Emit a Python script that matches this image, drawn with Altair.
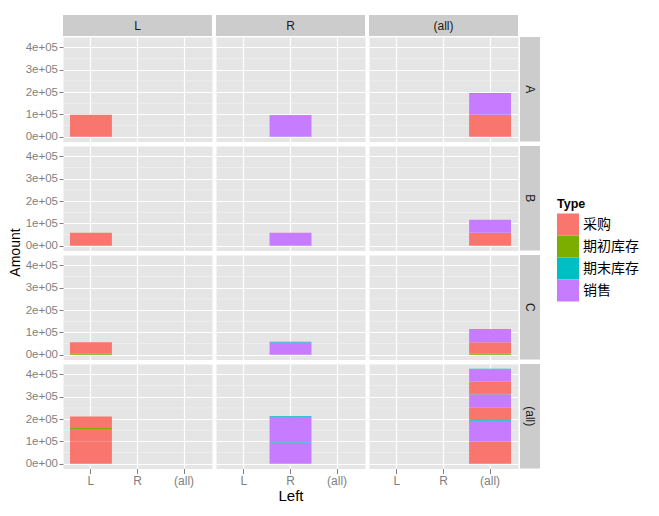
import altair as alt
import pandas as pd

# ---- data ----
row_groups = ["A", "A", "A", "B", "B", "C", "C", "C", "C"]
left_side = ["L", "R", "R", "L", "R", "L", "L", "R", "R"]
types = ["采购", "销售", "期末库存", "采购", "销售", "期初库存", "采购", "销售", "期末库存"]
amounts = [98000, 95000, 2500, 58000, 58000, 4000, 52000, 55000, 3000]

type_levels = ["采购", "期初库存", "期末库存", "销售"]
type_colors = ["#F8766D", "#7CAE00", "#00BFC4", "#C77CFF"]
col_levels = ["L", "R", "(all)"]
row_levels = ["A", "B", "C", "(all)"]
major_breaks = [0, 100000, 200000, 300000, 400000]
minor_breaks = [50000, 150000, 250000, 350000]

base = pd.DataFrame({
    "row": row_groups, "left": left_side, "type": types,
    "amount": amounts, "idx": list(range(len(amounts))),
})

W, H = 149, 104.5
GAP = 4
STRIP_CELL = 18      # cell height of the top strips (the grey strip overflows into the gap)
STRIP = 21
RCELL = 18           # cell width of the right strips
LEFT_W = 50
total = float(sum(amounts))
ydom = [-0.05 * total, 1.05 * total]
FONT = "Liberation Sans, Arial, Noto Sans CJK SC"
GREY = "#7F7F7F"

yscale = alt.Scale(domain=ydom, nice=False, zero=False)
xscale = alt.Scale(domain=col_levels, paddingInner=0.1, paddingOuter=0.15)
color_enc = alt.Color(
    "type:N",
    scale=alt.Scale(domain=type_levels, range=type_colors),
    legend=alt.Legend(
        title="Type", orient="none", legendX=548, legendY=183,
        titleFontSize=12.5, titleFontWeight="bold", titleColor="black", titleFont=FONT,
        titlePadding=3, labelFontSize=14, labelFont="Noto Sans CJK SC", labelColor="black",
        symbolType="square", symbolSize=484, symbolStrokeWidth=0, symbolOpacity=1,
        rowPadding=0, labelOffset=4, padding=0,
    ),
)

clear = alt.ViewBackground(fill="transparent", stroke="transparent")


def blank(w, h):
    return alt.Chart(pd.DataFrame({"t": [""]})).mark_rect(opacity=0).encode(
        x=alt.value(0), x2=alt.value(1), y=alt.value(0), y2=alt.value(1)
    ).properties(width=w, height=h, view=clear)


def panel(r, c, ri, ci):
    d = base.copy()
    if r != "(all)":
        d = d[d["row"] == r]
    if c != "(all)":
        d = d[d["left"] == c]
    d = d.assign(x=c)
    show_y = ci == 0
    show_x = ri == len(row_levels) - 1
    yaxis = alt.Axis(
        values=major_breaks, grid=True, gridColor="white", gridWidth=1.2, domain=False,
        title="", labels=show_y, ticks=show_y, tickColor=GREY, tickSize=4, tickWidth=1,
        labelColor=GREY, labelFontSize=11.5, labelFont=FONT, labelPadding=1.5,
        labelExpr="format(datum.value/100000, 'd') + (datum.value == 0 ? 'e+00' : 'e+05')",
    )
    xaxis = alt.Axis(
        grid=True, bandPosition=0.5, gridColor="white", gridWidth=1.2, domain=False,
        labels=show_x, ticks=show_x, tickColor=GREY, tickSize=5, tickWidth=1,
        labelColor=GREY, labelFontSize=12, labelFont=FONT, labelAngle=0, labelPadding=2,
        title=("Left" if (show_x and ci == 1) else ""), titleFontSize=15,
        titleFont=FONT, titleFontWeight="normal", titleColor="black", titlePadding=2,
    )
    minor = alt.Chart(pd.DataFrame({"b": minor_breaks})).mark_rule(
        color="#F2F2F2", strokeWidth=0.7
    ).encode(y=alt.Y("b:Q", scale=yscale, axis=yaxis))
    bars = alt.Chart(d).mark_bar().encode(
        x=alt.X("x:N", scale=xscale, axis=xaxis),
        y=alt.Y("amount:Q", scale=yscale, stack="zero", axis=yaxis),
        color=color_enc,
        order=alt.Order("idx:Q"),
    )
    return alt.layer(minor, bars).properties(
        width=W, height=H, view=alt.ViewBackground(fill="#E5E5E5", stroke="transparent")
    )


def strip_top(label):
    df = pd.DataFrame({"t": [label]})
    bg = alt.Chart(df).mark_rect(color="#CCCCCC").encode(
        x=alt.value(0), x2=alt.value(W), y=alt.value(0), y2=alt.value(STRIP)
    )
    txt = alt.Chart(df).mark_text(
        fontSize=12, font=FONT, color="#1A1A1A", baseline="middle", align="center"
    ).encode(text="t:N", x=alt.value(W / 2), y=alt.value(STRIP / 2 + 0.5))
    return alt.layer(bg, txt).properties(width=W, height=STRIP_CELL, view=clear)


def strip_right(label):
    df = pd.DataFrame({"t": [label]})
    bg = alt.Chart(df).mark_rect(color="#CCCCCC").encode(
        x=alt.value(-2), x2=alt.value(RCELL), y=alt.value(0), y2=alt.value(H)
    )
    txt = alt.Chart(df).mark_text(
        fontSize=12, font=FONT, color="#1A1A1A", baseline="middle", align="center", angle=90
    ).encode(text="t:N", x=alt.value(RCELL / 2 - 1), y=alt.value(H / 2))
    return alt.layer(bg, txt).properties(width=RCELL, height=H, view=clear)


def ytitle():
    return alt.Chart(pd.DataFrame({"t": ["Amount"]})).mark_text(
        angle=270, fontSize=14, font=FONT, color="black", baseline="middle", align="center"
    ).encode(text="t:N", x=alt.value(7), y=alt.value(H + GAP / 2)).properties(
        width=LEFT_W, height=H, view=clear
    )


cells = [blank(LEFT_W, STRIP_CELL)] + [strip_top(c) for c in col_levels] + [blank(RCELL, STRIP_CELL)]
for ri, r in enumerate(row_levels):
    cells.append(ytitle() if ri == 1 else blank(LEFT_W, H))
    for ci, c in enumerate(col_levels):
        cells.append(panel(r, c, ri, ci))
    cells.append(strip_right(r))

chart = alt.concat(
    *cells, columns=5, spacing=GAP, bounds="flush", align="each"
).properties(
    padding={"left": 0, "top": 6, "right": 5, "bottom": 5}
).configure_view(stroke="transparent")

chart.save("out.html", embed_options={"renderer": "svg", "actions": False})
